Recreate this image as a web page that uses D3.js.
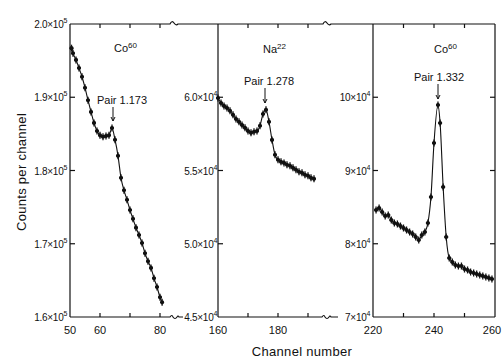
<!DOCTYPE html>
<html><head><meta charset="utf-8">
<script src="https://cdn.jsdelivr.net/npm/d3@7"></script>
<style>body{margin:0;background:#fff}svg{display:block}text{font-family:"Liberation Sans","DejaVu Sans",sans-serif;fill:#111}</style>
</head><body><svg id="c" width="502" height="362"></svg>
<script>
// ---- data ----
const co1Channels = [50.5,51,52,53,54,55,56,57,58,59,60,61,62,63,64,65,66,67,68,69,70,71,72,73,74,75,76,77,78,79,80,80.7];
const co1Counts  = [1.967,1.960,1.951,1.940,1.928,1.913,1.896,1.880,1.865,1.854,1.848,1.846,1.847,1.848,1.858,1.842,1.820,1.790,1.773,1.760,1.746,1.734,1.722,1.712,1.701,1.687,1.676,1.667,1.653,1.641,1.627,1.620]; // x10^5
const naChannels = [160,161,162,163,164,165,166,167,168,169,170,171,172,173,174,175,176,177,178,179,180,181,182,183,184,185,186,187,188,189,190,191,192];
const naCounts   = [5.995,5.961,5.941,5.927,5.907,5.880,5.852,5.832,5.811,5.791,5.770,5.757,5.764,5.770,5.805,5.886,5.914,5.832,5.709,5.607,5.573,5.559,5.552,5.539,5.532,5.518,5.505,5.491,5.484,5.471,5.464,5.450,5.443]; // x10^4
const co2Channels = [221,222,223,224,225,226,227,228,229,230,231,232,233,234,235,236,237,238,239,240,241.3,242,243,244,245,246,247,248,249,250,251,252,253,254,255,256,257,258,259];
const co2Counts  = [8.461,8.488,8.433,8.379,8.392,8.324,8.283,8.270,8.242,8.215,8.188,8.160,8.133,8.092,8.051,8.119,8.160,8.283,8.638,9.375,9.894,9.648,8.775,8.092,7.805,7.751,7.710,7.696,7.696,7.655,7.642,7.614,7.601,7.587,7.573,7.560,7.546,7.532,7.519]; // x10^4
const p1YTicks = [2.0,1.9,1.8,1.7,1.6];
const p1YLabels = ["2.0×10|5","1.9×10|5","1.8×10|5","1.7×10|5","1.6×10|5"];
const p2YTicks = [6.0,5.5,5.0,4.5];
const p2YLabels = ["6.0×10|4","5.5×10|4","5.0×10|4","4.5×10|4"];
const p3YTicks = [10,9,8,7];
const p3YLabels = ["10×10|4","9×10|4","8×10|4","7×10|4"];
const p1XTicks = [60,70,80], p1XLabels = [[50,"50"],[60,"60"],[80,"80"]];
const p2XTicks = [170,180,190], p2XLabels = [[160,"160"],[180,"180"]];
const p3XTicks = [230,240,250], p3XLabels = [[220,"220"],[240,"240"],[259,"260"]];

// ---- layout ----
const svg = d3.select("#c");
const T = 24, B = 317;
const x1 = d3.scaleLinear().domain([50,80]).range([70,160]);
const x2 = d3.scaleLinear().domain([160,190]).range([218,308]);
const x3 = d3.scaleLinear().domain([220,260]).range([373,495]);
const y1 = d3.scaleLinear().domain([1.6,2.0]).range([B,T]);
const y2 = d3.scaleLinear().domain([4.5,6.5]).range([B,T]);
const y3 = d3.scaleLinear().domain([7,11]).range([B,T]);
const L1 = 70, L2 = 218, L3 = 373, R3 = 495;

const g = svg.append("g").attr("stroke","#111").attr("fill","none").attr("stroke-width",1.2);
[L1,L2,L3,R3].forEach(x=>g.append("line").attr("x1",x).attr("x2",x).attr("y1",T).attr("y2",B));
g.append("path").attr("d",`M${L1},${T}H170 q2,-4 4,-1 q2,3 4,1 H323 q2,-4 4,-1 q2,3 4,1 H${R3}`);
g.append("path").attr("d",`M${L1},${B}H170 q2,-3 3,0 q2,3 4,0 q1,-2 2,0 H183`);
g.append("path").attr("d",`M${L2},${B}H322 q2,-3 3,0 q2,3 4,0 q1,-2 2,0 H338`);
g.append("line").attr("x1",L3).attr("x2",R3).attr("y1",B).attr("y2",B);

function xt(sc,ticks){ticks.forEach(t=>{const x=sc(t);
  g.append("line").attr("x1",x).attr("x2",x).attr("y1",T).attr("y2",T+4);
  g.append("line").attr("x1",x).attr("x2",x).attr("y1",B).attr("y2",B-4);});}
xt(x1,p1XTicks); xt(x2,p2XTicks); xt(x3,p3XTicks);
function yt(sc,ticks,x0,dir){ticks.forEach(t=>{const y=sc(t);
  g.append("line").attr("x1",x0).attr("x2",x0+dir*5).attr("y1",y).attr("y2",y);});}
yt(y1,[1.9,1.8,1.7],L1,1); yt(y2,[6.0,5.5,5.0],L2,1); yt(y3,[10,9,8],L3,1); yt(y3,[10,9,8],R3,-1);

function ylab(sc,ticks,labels,xr){ticks.forEach((t,i)=>{const [m,e]=labels[i].split("|");
  const tx=svg.append("text").attr("x",xr).attr("y",sc(t)+4).attr("text-anchor","end").attr("font-size",10).attr("letter-spacing",-0.3).text(m);
  tx.append("tspan").attr("dy",-5).attr("font-size",7).text(e);});}
ylab(y1,p1YTicks,p1YLabels,67); ylab(y2,p2YTicks,p2YLabels,217); ylab(y3,p3YTicks,p3YLabels,370);

function xlab(sc,labels){labels.forEach(([v,s])=>svg.append("text").attr("x",sc(v)).attr("y",334).attr("text-anchor","middle").attr("font-size",11).text(s));}
xlab(x1,p1XLabels); xlab(x2,p2XLabels); xlab(x3,p3XLabels);

svg.append("text").attr("x",302).attr("y",356).attr("text-anchor","middle").attr("font-size",13).attr("letter-spacing",0.3).text("Channel number");
svg.append("text").attr("transform","translate(26,172) rotate(-90)").attr("text-anchor","middle").attr("font-size",13).attr("letter-spacing",0.3).text("Counts per channel");

function series(xs,ys,sx,sy){
  const pts=xs.map((c,i)=>[sx(c),sy(ys[i])]);
  svg.append("path").attr("d",d3.line().curve(d3.curveMonotoneX)(pts)).attr("fill","none").attr("stroke","#111").attr("stroke-width",1.1);
  const m=svg.append("g").attr("stroke","#111").attr("stroke-width",1.3);
  pts.forEach(([x,y])=>{
    m.append("line").attr("x1",x).attr("x2",x).attr("y1",y-3.5).attr("y2",y+3.5);
    m.append("line").attr("x1",x-2).attr("x2",x+2).attr("y1",y).attr("y2",y);
    m.append("circle").attr("cx",x).attr("cy",y).attr("r",1.4).attr("fill","#111");
  });
}
series(co1Channels,co1Counts,x1,y1);
series(naChannels,naCounts,x2,y2);
series(co2Channels,co2Counts,x3,y3);

function iso(x,y,el,mass){const t=svg.append("text").attr("x",x).attr("y",y).attr("font-size",11).text(el);
  t.append("tspan").attr("dy",-4).attr("font-size",8).text(mass);}
iso(114,52,"Co","60"); iso(263,53,"Na","22"); iso(434,53,"Co","60");
function pair(tx,ax,ty,lab,a0,a1){svg.append("text").attr("x",tx).attr("y",ty).attr("text-anchor","middle").attr("font-size",11).text(lab);
  svg.append("line").attr("x1",ax).attr("x2",ax).attr("y1",a0).attr("y2",a1).attr("stroke","#111").attr("stroke-width",1);
  svg.append("path").attr("d",`M${ax-2},${a1-4}L${ax},${a1}L${ax+2},${a1-4}`).attr("fill","none").attr("stroke","#111").attr("stroke-width",1);}
pair(122,113,104,"Pair 1.173",107,121);
pair(269,265,85,"Pair 1.278",88,103);
pair(439,438,81,"Pair 1.332",84,99);
</script></body></html>
